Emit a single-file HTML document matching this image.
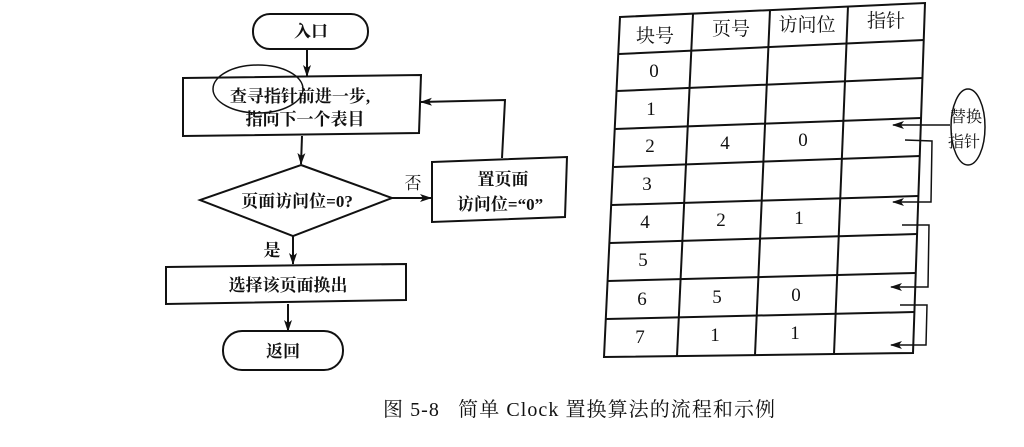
<!DOCTYPE html>
<html><head><meta charset="utf-8"><style>
html,body{margin:0;padding:0;background:#fff;}
svg{display:block;}
text{font-family:"Liberation Serif","Noto Serif CJK SC","Noto Sans CJK SC",serif;fill:#111;}
</style></head><body>
<svg width="1024" height="447" viewBox="0 0 1024 447" xmlns="http://www.w3.org/2000/svg">
<defs>
<marker id="a" markerWidth="12" markerHeight="8" refX="11" refY="4" orient="auto" markerUnits="userSpaceOnUse">
<path d="M0,0 L12,4 L0,8 L3,4 Z" fill="#111"/></marker>
</defs>
<g stroke="#111" stroke-width="2" fill="none">
<rect x="253" y="14" width="115" height="35" rx="17"/>
<polygon points="183,78 421,75 419,133 183,136"/>
<polygon points="301,165 392,198 293,236 200,200"/>
<polygon points="432,162 567,157 565,217 432,222"/>
<polygon points="166,267 406,264 406,300 166,304"/>
<rect x="223" y="331" width="120" height="39" rx="19"/>
<line x1="307" y1="49" x2="307" y2="76" marker-end="url(#a)"/>
<line x1="302" y1="136" x2="301" y2="164" marker-end="url(#a)"/>
<line x1="392" y1="198" x2="431" y2="198" marker-end="url(#a)"/>
<polyline points="502,158 505,100 421,102" marker-end="url(#a)"/>
<line x1="293" y1="236" x2="293" y2="264" marker-end="url(#a)"/>
<line x1="288" y1="304" x2="288" y2="331" marker-end="url(#a)"/>
<ellipse cx="258" cy="89" rx="45" ry="24" stroke-width="1.5"/>
</g>
<g font-size="17" font-weight="bold" text-anchor="middle">
<text x="311" y="37">入口</text>
<text x="300" y="102">查寻指针前进一步,</text>
<text x="305" y="125">指向下一个表目</text>
<text x="297" y="207">页面访问位=0?</text>
<text x="503" y="185">置页面</text>
<text x="500" y="210">访问位=“0”</text>
<text x="288" y="291">选择该页面换出</text>
<text x="283" y="357">返回</text>
<text x="272" y="256">是</text>
</g>
<text x="413" y="189" font-size="17" text-anchor="middle">否</text>
<g stroke="#111" stroke-width="2" fill="none">
<polygon points="620,17 925,3 913,353 604,357"/>
<line x1="693" y1="14" x2="677" y2="356"/>
<line x1="770" y1="10" x2="755" y2="355"/>
<line x1="848" y1="6" x2="834" y2="354"/>
<line x1="619" y1="54" x2="924" y2="40"/>
<line x1="617" y1="91" x2="922" y2="78"/>
<line x1="615" y1="129" x2="921" y2="118"/>
<line x1="614" y1="167" x2="920" y2="156"/>
<line x1="612" y1="205" x2="918" y2="196"/>
<line x1="610" y1="243" x2="917" y2="234"/>
<line x1="608" y1="281" x2="915" y2="273"/>
<line x1="606" y1="319" x2="914" y2="312"/>
</g>
<g stroke="#111" stroke-width="1.5" fill="none">
<ellipse cx="968" cy="127" rx="17" ry="38"/>
<line x1="950" y1="125" x2="893" y2="125" marker-end="url(#a)"/>
<polyline points="905,140 932,141 931,202 893,202" marker-end="url(#a)"/>
<polyline points="902,225 929,225 928,287 891,287" marker-end="url(#a)"/>
<polyline points="900,305 927,305 926,345 891,345" marker-end="url(#a)"/>
</g>
<g font-size="19" text-anchor="middle">
<text x="655" y="42">块号</text>
<text x="731" y="35">页号</text>
<text x="807" y="31">访问位</text>
<text x="886" y="27">指针</text>
<text x="654" y="77">0</text>
<text x="651" y="115">1</text>
<text x="650" y="152">2</text><text x="725" y="149">4</text><text x="803" y="146">0</text>
<text x="647" y="190">3</text>
<text x="645" y="228">4</text><text x="721" y="226">2</text><text x="799" y="224">1</text>
<text x="643" y="266">5</text>
<text x="642" y="305">6</text><text x="717" y="303">5</text><text x="796" y="301">0</text>
<text x="640" y="343">7</text><text x="715" y="341">1</text><text x="795" y="339">1</text>
</g>
<g font-size="16" text-anchor="middle">
<text x="966" y="122">替换</text>
<text x="964" y="147">指针</text>
</g>
<text x="383" y="416" font-size="20" textLength="392" lengthAdjust="spacing">图 5-8 &#160;&#160;简单 Clock 置换算法的流程和示例</text>
</svg>
</body></html>
